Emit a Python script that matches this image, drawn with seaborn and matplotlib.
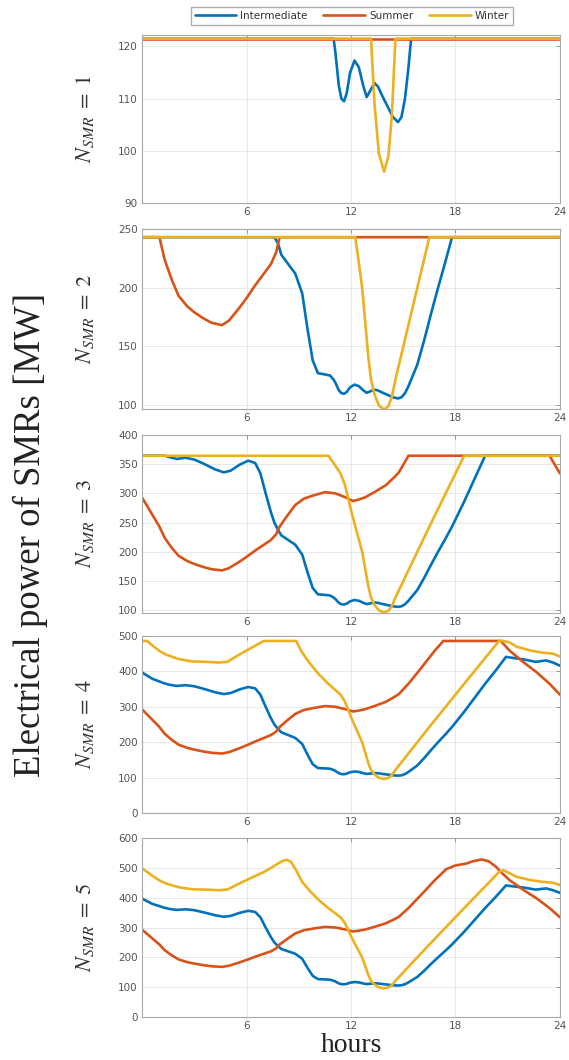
import numpy as np
import matplotlib
matplotlib.use("Agg")
import matplotlib.pyplot as plt
import seaborn as sns
from matplotlib.lines import Line2D

# ---------------- data ----------------
# Demand-following electrical power (MW) per season, hour breakpoints
hours_int = [0, 0.6, 1.3, 1.6, 2.0, 2.5, 3.0, 3.6, 4.2, 4.7, 5.1, 5.6, 6.1, 6.5, 6.8,
             7.1, 7.4, 7.6, 7.8, 8.0, 8.4, 8.8, 9.2, 9.5, 9.8, 10.1, 10.5, 10.8, 11.0,
             11.1, 11.3, 11.45, 11.6, 11.75, 11.95, 12.2, 12.45, 12.7, 12.9, 13.1, 13.35,
             13.55, 13.8, 14.1, 14.4, 14.7, 14.9, 15.1, 15.3, 15.45,
             15.8, 16.2, 16.6, 17.0, 17.4, 17.8, 18.5, 19.7, 20.3, 20.9, 21.3,
             21.9, 22.6, 23.2, 23.6, 24.0]
mw_int = [397, 379, 366, 362, 359, 361, 358, 350, 341, 336, 339, 349, 356, 352, 334,
          300, 268, 250, 238, 228, 220, 212, 195, 165, 138, 127, 126, 125, 121.5,
          119, 112.5, 110, 109.5, 111, 115, 117.3, 116, 112.5, 110.3, 111.5, 113,
          112.3, 110.5, 108.5, 106.5, 105.5, 106.5, 110, 116, 121.5,
          134, 155, 178, 200, 221, 243, 286, 365, 402, 441, 438,
          434, 427, 431, 425, 416]

hours_sum = [0, 0.5, 1.0, 1.3, 1.7, 2.1, 2.6, 3.0, 3.5, 4.0, 4.6, 5.0, 5.6, 6.0, 6.5,
             7.0, 7.4, 7.7, 7.9, 8.3, 8.8, 9.3, 9.9, 10.5, 11.1, 11.7, 12.1, 12.3,
             12.8, 13.4, 14.0, 14.5, 14.75, 15.3, 16.1, 16.8, 17.3, 17.45, 18.0, 18.6,
             19.0, 19.5, 19.9, 20.34, 20.6, 21.1, 21.9, 22.65, 23.4, 24.0]
mw_sum = [293, 268, 243, 224, 207, 193, 184, 179, 174, 170, 168, 172, 183, 191, 202,
          212, 220, 230, 243, 260, 280, 291, 297, 302, 300, 293, 287, 288,
          293, 303, 314, 328, 336, 365, 414, 458, 486, 495, 508, 514,
          522, 528, 522, 503, 486, 459, 426, 398, 365, 334]

hours_win = [0, 0.3, 0.6, 1.0, 1.4, 2.1, 2.9, 3.7, 4.4, 4.9, 5.4, 6.0, 6.7, 7.0, 7.5,
             8.0, 8.3, 8.55, 8.85, 9.2, 9.6, 10.15, 10.7, 11.0, 11.4, 11.65, 11.85,
             12.05, 12.25, 12.64, 13.0, 13.15, 13.35, 13.6, 13.9, 14.15, 14.35, 14.55,
             16.5, 18.5, 20.5, 20.75, 21.1, 21.5, 22.3, 23.0, 23.6, 24.0]
mw_win = [498, 486, 473, 458, 447, 435, 428, 427, 425, 427, 442, 459, 478, 486, 503,
          521, 527, 520, 492, 453, 425, 392, 365, 352, 334, 315, 290,
          265, 243, 200, 140, 121.5, 109, 99.5, 96, 99, 107, 121.5,
          243, 365, 486, 492, 482, 470, 459, 453, 450, 442]

season_names = ["Intermediate", "Summer", "Winter"]
n_smr = [1, 2, 3, 4, 5]
caps = [121.5, 243, 364.5, 486, 607.5]          # N_SMR x 121.5 MW
ylims = [(90, 122.2), (96.5, 250), (95, 400), (0, 500), (0, 600)]
yticks = [[90, 100, 110, 120], [100, 150, 200, 250], [100, 150, 200, 250, 300, 350, 400],
          [0, 100, 200, 300, 400, 500], [0, 100, 200, 300, 400, 500, 600]]
xticks = [6, 12, 18, 24]

# ---------------- style ----------------
sns.set_theme(style="white")
plt.rcParams["font.family"] = ["DejaVu Sans"]
plt.rcParams["mathtext.fontset"] = "stix"

colors = ["#0072BD", "#D95319", "#EDB120"]
series = [(hours_int, mw_int), (hours_sum, mw_sum), (hours_win, mw_win)]

W, H = 569, 1060
fig = plt.figure(figsize=(W / 100, H / 100), dpi=100)

# panel pixel boxes (top, bottom)
boxes = [(35, 203), (229, 409), (435, 613), (636, 813), (838, 1017)]
left_px, right_px = 142, 560

for i, (top, bot) in enumerate(boxes):
    ax = fig.add_axes([left_px / W, 1 - bot / H, (right_px - left_px) / W, (bot - top) / H])
    cap = caps[i]
    for (hrs, vals), col in zip(series, colors):
        y = np.minimum(np.array(vals, dtype=float), cap)
        sns.lineplot(x=hrs, y=y, ax=ax, color=col, lw=1.9, estimator=None,
                     sort=False, legend=False)
    ax.set_xlim(0, 24)
    ax.set_ylim(*ylims[i])
    ax.set_xticks(xticks)
    ax.set_yticks(yticks[i])
    ax.grid(True, color="#e4e4e4", lw=0.6)
    ax.set_axisbelow(True)
    ax.tick_params(direction="in", top=True, right=True, length=3, width=0.6,
                   labelsize=7.5, color="#888888", labelcolor="#555555", pad=3)
    for sp in ax.spines.values():
        sp.set_color("#a8a8a8")
        sp.set_linewidth(0.8)
    ax.set_xlabel("")
    ax.set_ylabel(r"$N_{SMR}\;=\;%d$" % n_smr[i], fontsize=16, color="#333333")
    ax.yaxis.set_label_coords(-0.11, 0.5)

handles = [Line2D([], [], color=c, lw=1.9) for c in colors]
fig.legend(handles, season_names, loc="upper center", bbox_to_anchor=(352 / W, 1 - 2 / H),
           ncol=3, frameon=True, fancybox=False, edgecolor="#9a9a9a", fontsize=7.5,
           handlelength=4.0, columnspacing=1.5, handletextpad=0.4, borderpad=0.35,
           labelcolor="#333333")

fig.text(30 / W, 1 - 535 / H, "Electrical power of SMRs [MW]", rotation=90,
         ha="center", va="center", fontsize=26.5, family=["Liberation Serif", "DejaVu Serif"],
         color="#222222")
fig.text(351 / W, 1 - 1045 / H, "hours", ha="center", va="center", fontsize=20,
         family=["Liberation Serif", "DejaVu Serif"], color="#222222")

fig.savefig("out.png", dpi=100)
